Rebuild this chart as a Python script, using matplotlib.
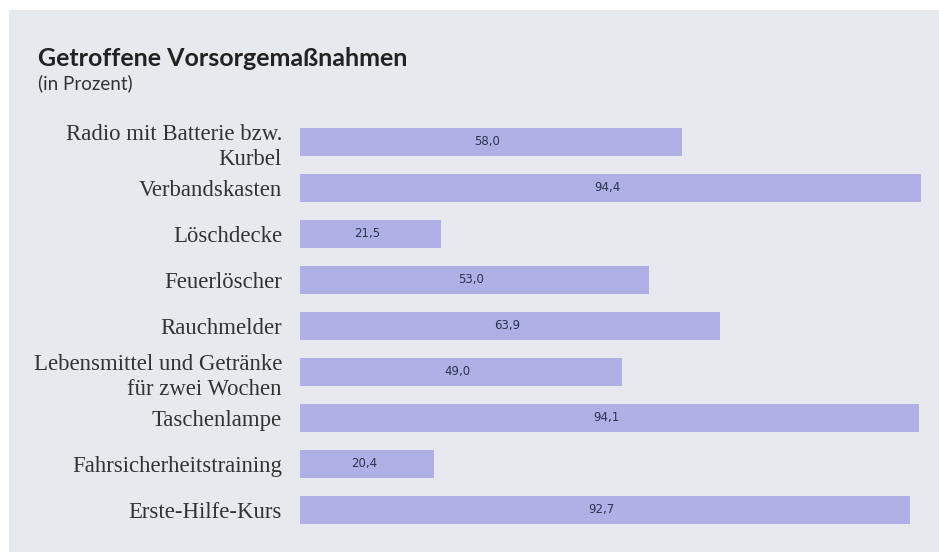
import matplotlib
matplotlib.use("Agg")
import matplotlib.pyplot as plt
from matplotlib.patches import Rectangle

categories = [
    "Radio mit Batterie bzw.\nKurbel",
    "Verbandskasten",
    "Löschdecke",
    "Feuerlöscher",
    "Rauchmelder",
    "Lebensmittel und Getränke\nfür zwei Wochen",
    "Taschenlampe",
    "Fahrsicherheitstraining",
    "Erste-Hilfe-Kurs",
]
values = [58.0, 94.4, 21.5, 53.0, 63.9, 49.0, 94.1, 20.4, 92.7]
value_labels = ["58,0", "94,4", "21,5", "53,0", "63,9", "49,0", "94,1", "20,4", "92,7"]

W, H = 939, 552
fig = plt.figure(figsize=(W / 100, H / 100), dpi=100)
fig.patch.set_facecolor("white")

# gray panel
panel = Rectangle((9 / W, 0), 1 - 9 / W, 1 - 10 / H,
                  transform=fig.transFigure, facecolor="#e6e9ee",
                  edgecolor="none", zorder=-10)
fig.add_artist(panel)

bar_color = "#aeb0e6"

left = 300 / W
right = 1.0
n = len(values)
spacing = 46
top_px = 142 - spacing / 2
bot_px = 510 + spacing / 2
ax = fig.add_axes([left, 1 - bot_px / H, right - left, (bot_px - top_px) / H])
ax.set_facecolor("none")
ax.set_zorder(1)

y = list(range(n))
ax.barh(y, values, height=0.63, color=bar_color, edgecolor="none")
ax.set_xlim(0, (939 - 300) / ((921 - 300) / 94.4))
ax.set_ylim(n - 0.5, -0.5)

for yi, v, lab in zip(y, values, value_labels):
    ax.text(v / 2 - 0.5, yi, lab, ha="center", va="center", fontsize=8.5,
            color="#2e3350", family="DejaVu Sans")

ax.set_yticks(y)
ax.set_yticklabels(categories, family="Liberation Serif", fontsize=16.4,
                   color="#333333", linespacing=1.3)
ax.tick_params(axis="y", length=0, pad=13)
ax.set_xticks([])
for s in ax.spines.values():
    s.set_visible(False)

fig.text(38 / W, 1 - 58 / H, "Getroffene Vorsorgemaßnahmen", fontsize=18,
         fontweight="bold", color="#222222", family="Lato", va="center",
         ha="left")
fig.text(38 / W, 1 - 83 / H, "(in Prozent)", fontsize=13.5, color="#333333",
         family="Lato", va="center", ha="left")

fig.savefig("out.png", dpi=100, facecolor="white")
